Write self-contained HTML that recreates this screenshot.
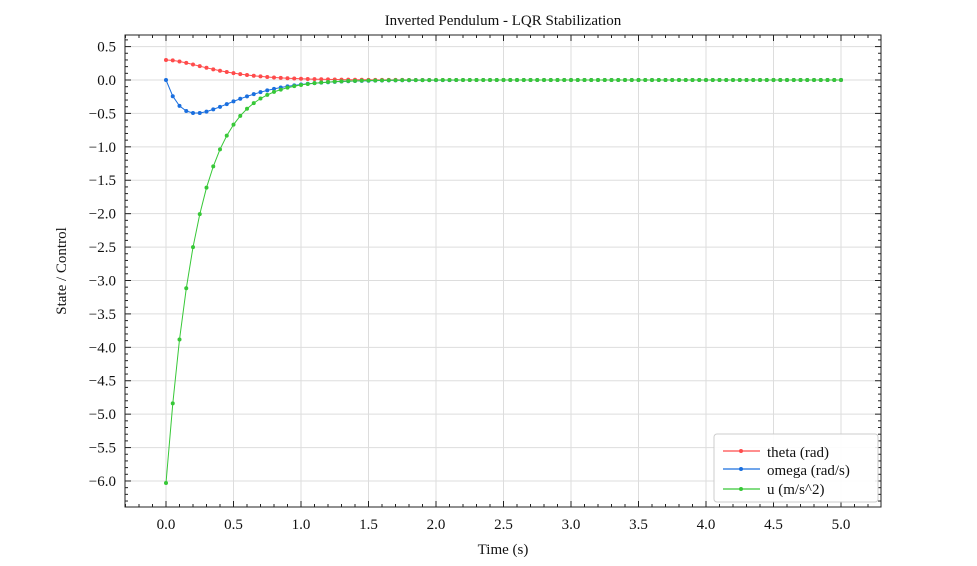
<!DOCTYPE html>
<html><head><style>
body{margin:0;background:#fff}
svg text{font-family:"Liberation Serif",serif;fill:#111}
</style></head><body>
<svg id="s" width="977" height="561" xmlns="http://www.w3.org/2000/svg">
<g id="grid"></g>
<g id="series"></g>
<rect x="125" y="35" width="756" height="472" fill="none" stroke="#222" stroke-width="1"/>
<g id="ticks"></g>
<text x="503" y="25" font-size="15" text-anchor="middle">Inverted Pendulum - LQR Stabilization</text>
<text x="503" y="554" font-size="15" text-anchor="middle">Time (s)</text>
<text transform="translate(66,271) rotate(-90)" font-size="15" text-anchor="middle">State / Control</text>
<g>
<rect x="714" y="434" width="164" height="68" rx="3" fill="#fff" fill-opacity="0.9" stroke="#ccc"/>
<line x1="723" y1="451" x2="760" y2="451" stroke="#ff4b4b" stroke-width="1.2"/><circle cx="741" cy="451" r="2" fill="#ff4b4b"/>
<text x="767" y="457" font-size="15">theta (rad)</text>
<line x1="723" y1="469" x2="760" y2="469" stroke="#1a6fdf" stroke-width="1.2"/><circle cx="741" cy="469" r="2" fill="#1a6fdf"/>
<text x="767" y="475" font-size="15">omega (rad/s)</text>
<line x1="723" y1="489" x2="760" y2="489" stroke="#37c837" stroke-width="1.2"/><circle cx="741" cy="489" r="2" fill="#37c837"/>
<text x="767" y="494" font-size="15">u (m/s^2)</text>
</g>
</svg>
<script>
const X=t=>166+135*t, Y=v=>80-66.83*v;
const L=125,R=881,T=35,B=507;
let g='',k='';
for(let i=0;i<=10;i++){const x=X(i*0.5);g+=`<line x1="${x}" y1="${T}" x2="${x}" y2="${B}" stroke="#ddd"/>`;
k+=`<text x="${x}" y="529" font-size="15" text-anchor="middle">${(i*0.5).toFixed(1)}</text>`;}
for(let i=-12;i<=1;i++){const y=Y(i*0.5);g+=`<line x1="${L}" y1="${y}" x2="${R}" y2="${y}" stroke="#ddd"/>`;
k+=`<text x="116" y="${y+5}" font-size="15" text-anchor="end">${i<0?'\u2212':''}${Math.abs(i*0.5).toFixed(1)}</text>`;}
for(let i=-3;i<=53;i++){const x=X(i*0.1);if(x<L||x>R)continue;const m=i%5==0?6:3;
k+=`<line x1="${x}" y1="${B}" x2="${x}" y2="${B-m}" stroke="#222"/><line x1="${x}" y1="${T}" x2="${x}" y2="${T+m}" stroke="#222"/>`;}
for(let i=-64;i<=7;i++){const y=Y(i*0.1);if(y<T||y>B)continue;const m=i%5==0?6:3;
k+=`<line x1="${L}" y1="${y}" x2="${L+m}" y2="${y}" stroke="#222"/><line x1="${R}" y1="${y}" x2="${R-m}" y2="${y}" stroke="#222"/>`;}
document.getElementById('grid').innerHTML=g;document.getElementById('ticks').innerHTML=k;
const a=4.5;
const f=[[t=>0.3*(1+a*t)*Math.exp(-a*t),'#ff4b4b'],[t=>-0.3*a*a*t*Math.exp(-a*t),'#1a6fdf'],[t=>-6.03*Math.exp(-4.4*t),'#37c837']];
let s='';
for(const [fn,c] of f){let p=[],d='';for(let i=0;i<=100;i++){const t=i*0.05,x=X(t),y=Y(fn(t));p.push(x.toFixed(1)+','+y.toFixed(1));d+=`<circle cx="${x}" cy="${y}" r="2" fill="${c}"/>`;}
s+=`<polyline points="${p.join(' ')}" fill="none" stroke="${c}" stroke-width="1"/>`+d;}
document.getElementById('series').innerHTML=s;
</script>
</body></html>
